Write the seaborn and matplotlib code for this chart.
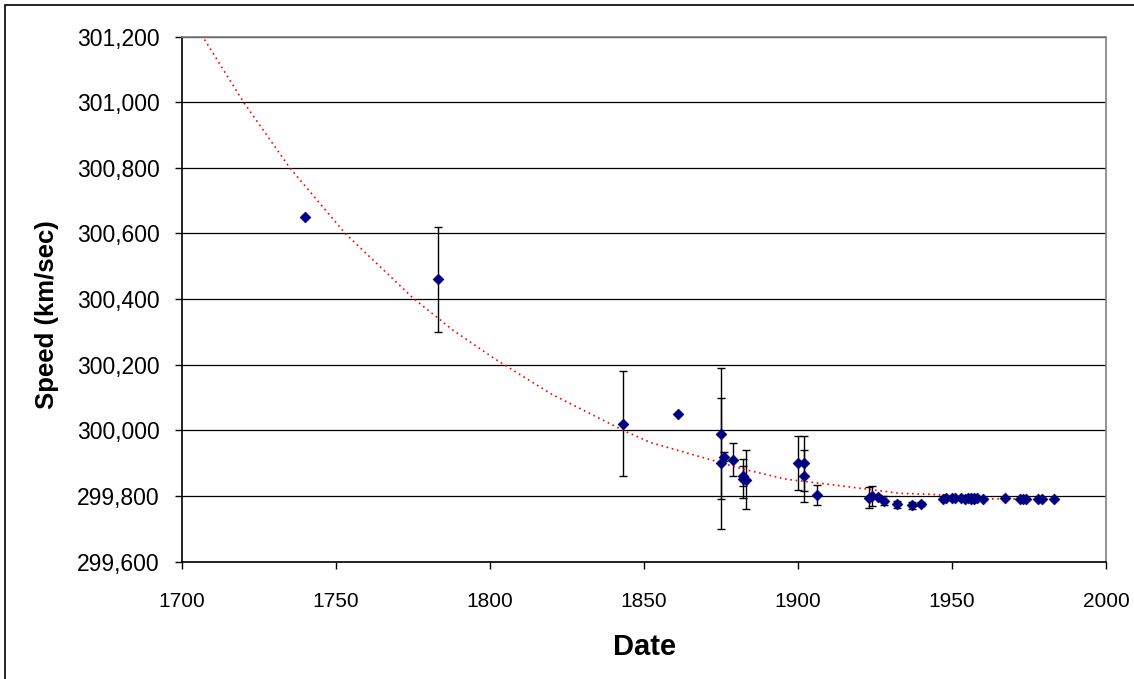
import matplotlib
matplotlib.use("Agg")
import matplotlib.pyplot as plt
import matplotlib.ticker as mticker
from matplotlib.patches import Rectangle
import numpy as np
import pandas as pd
import seaborn as sns

years = [1740, 1783, 1843, 1861, 1875, 1875, 1876, 1879, 1882, 1882, 1883,
         1900, 1902, 1902, 1906, 1923, 1924, 1926, 1928, 1932, 1937, 1940,
         1947, 1948, 1950, 1951, 1953, 1954, 1955, 1956, 1956, 1957, 1957,
         1958, 1960, 1967, 1972, 1973, 1974, 1978, 1979, 1983]
speeds = [300650, 300460, 300020, 300050, 299990, 299900, 299920, 299910,
          299860, 299853, 299850, 299900, 299900, 299860, 299803, 299795,
          299800, 299798, 299786, 299774, 299771, 299776,
          299792, 299794, 299793, 299794, 299793, 299792, 299795, 299792,
          299793, 299792, 299793, 299793, 299792, 299793, 299792, 299792,
          299792, 299792, 299792, 299792]
errors = [0, 160, 160, 0, 200, 200, 13, 50, 30, 60, 90, 82, 84, 80, 30,
          33, 30, 4, 15, 11, 10, 6,
          0, 0, 0, 0, 0, 0, 0, 0, 0, 0, 0, 0, 0, 0, 0, 0, 0, 0, 0, 0]

# trendline as drawn on the chart
trend_years = [1706.4, 1720, 1735, 1753, 1775, 1788, 1802, 1820, 1843, 1852,
               1868, 1882, 1896, 1912, 1933, 1943, 1963, 1976, 1983]
trend_speeds = [301205, 301000, 300800, 300600, 300403, 300305, 300215, 300110,
                300001, 299963, 299920, 299882, 299851, 299833, 299808, 299805,
                299791, 299791, 299790]

df = pd.DataFrame({"Date": years, "Speed": speeds, "err": errors})
trend = pd.DataFrame({"Date": trend_years, "Speed": trend_speeds})

sns.set_style("white")
plt.rcParams["font.family"] = ["Liberation Sans", "DejaVu Sans"]

fig = plt.figure(figsize=(11.34, 6.79), dpi=100)
ax = fig.add_axes([0.1605, 0.173, 0.815, 0.773])

ax.grid(axis="y", color="black", lw=0.9)
ax.set_axisbelow(True)

eb = df[df["err"] > 0]
ax.errorbar(eb["Date"], eb["Speed"], yerr=eb["err"], fmt="none",
            ecolor="black", elinewidth=1, capsize=3.2, capthick=1, zorder=2)

sns.lineplot(data=trend, x="Date", y="Speed", ax=ax, color="red",
             lw=1.2, linestyle=(0, (1, 2.2)), zorder=3)

sns.scatterplot(data=df, x="Date", y="Speed", ax=ax, marker="D", s=30,
                color="#000080", edgecolor="#000080", linewidth=0.5, zorder=4)

ax.set_xlim(1700, 2000)
ax.set_ylim(299600, 301200)
ax.set_xticks(range(1700, 2001, 50))
ax.set_yticks(range(299600, 301201, 200))
ax.yaxis.set_major_formatter(mticker.StrMethodFormatter("{x:,.0f}"))

ax.tick_params(axis="y", direction="out", length=5, width=1, pad=11,
               labelsize=16.5, left=True, color="black", labelcolor="black")
ax.tick_params(axis="x", direction="out", length=5, width=1, pad=17,
               labelsize=15, bottom=True, color="black", labelcolor="black")

ax.set_xlabel("Date", fontsize=21, fontweight="bold", color="black")
ax.set_ylabel("Speed (km/sec)", fontsize=18.5, fontweight="bold", color="black")
ax.xaxis.set_label_coords(0.5, -0.136)
ax.yaxis.set_label_coords(-0.133, 0.47)

for side in ["left", "bottom"]:
    ax.spines[side].set_color("black")
    ax.spines[side].set_linewidth(1.2)
for side in ["top", "right"]:
    ax.spines[side].set_color("#808080")
    ax.spines[side].set_linewidth(1.2)

# chart frame (only top and left edges fall inside the image)
fig.add_artist(Rectangle((5 / 1134, -0.5), 2, 1.5 - 5 / 679, fill=False,
                         lw=1.2, edgecolor="black", transform=fig.transFigure))

fig.savefig("out.png", dpi=100)
